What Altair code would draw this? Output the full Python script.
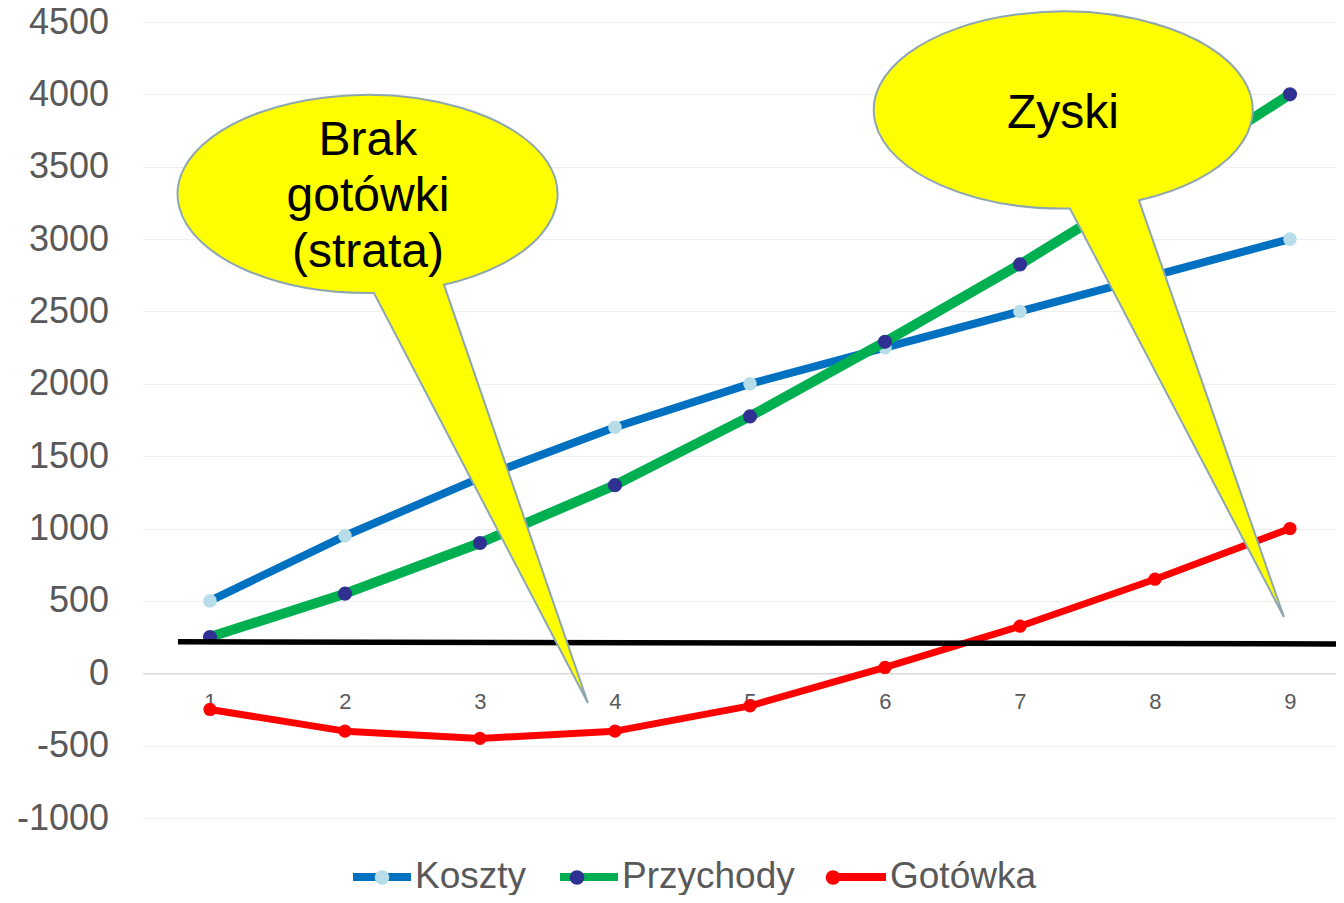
import altair as alt
import pandas as pd

# ---- data ----
periods = [1, 2, 3, 4, 5, 6, 7, 8, 9]
koszty = [500, 950, 1350, 1700, 2000, 2250, 2500, 2750, 3000]
przychody = [250, 550, 900, 1300, 1775, 2290, 2825, 3400, 4000]
gotowka = [-250, -400, -450, -400, -225, 40, 325, 650, 1000]
series_names = ["Koszty", "Przychody", "Gotówka"]
line_colors = ["#0070C0", "#00B050", "#FF0000"]
marker_colors = ["#B7DEE8", "#2E3192", "#FF0000"]
y_ticks = [-1000, -500, 0, 500, 1000, 1500, 2000, 2500, 3000, 3500, 4000, 4500]

# hand-drawn black level line (data units)
level_x = [0.763, 9.341]
level_y = [217, 203]

# callouts (data units)
callout_texts = ["Brak\ngotówki\n(strata)", "Zyski"]
callout_x = [2.170, 7.322]
callout_y = [3311.7, 3891.9]
text_x = [2.170, 7.319]
text_y = [3680, 3867]

rows = []
for name, vals in zip(series_names, [koszty, przychody, gotowka]):
    for p, v in zip(periods, vals):
        rows.append({"period": p, "value": v, "series": name})
df = pd.DataFrame(rows)

FONT = "Liberation Sans"
GREY = "#595959"

xenc = alt.X(
    "period:Q",
    scale=alt.Scale(domain=[0.5, 9.341], nice=False, zero=False),
    axis=alt.Axis(values=periods, format="d", grid=False, ticks=False,
                  labelFontSize=22, labelColor=GREY, labelFont=FONT,
                  labelPadding=18, labelFlush=False, labelOverlap=False,
                  domainColor="#D9D9D9", domainWidth=1.5, offset=-144.7,
                  title=None),
)
yenc = alt.Y(
    "value:Q",
    scale=alt.Scale(domain=[-1000, 4500], nice=False, zero=False),
    axis=alt.Axis(values=y_ticks, grid=True, gridColor="#EFEFEF", gridWidth=1,
                  ticks=False, domain=False, labelFontSize=36, labelColor=GREY,
                  labelFont=FONT, labelPadding=34, labelFlush=False,
                  labelOverlap=False, labelExpr="'' + datum.value", title=None),
)

legend_common = dict(title=None, orient="none", legendX=206.5, legendY=822,
                     direction="horizontal", symbolSize=3364, symbolStrokeWidth=8,
                     labelFontSize=37, labelFont=FONT, labelOffset=0, labelLimit=400,
                     columnPadding=17, padding=0, rowPadding=0, symbolOpacity=1)

stroke_legend = alt.Legend(symbolType="stroke", labelColor=GREY, zindex=1,
                           **legend_common)
circle_path = "M -0.25 0 A 0.25 0.25 0 1 0 0.25 0 A 0.25 0.25 0 1 0 -0.25 0 Z"
fill_legend = alt.Legend(symbolType=circle_path, labelColor="transparent",
                         symbolStrokeColor="transparent", zindex=2, **legend_common)

stroke_scale = alt.Scale(domain=series_names, range=line_colors)
fill_scale = alt.Scale(range=marker_colors)

base = alt.Chart(df)
line_widths = [8, 10, 7]
marker_sizes = [185, 200, 175]

layers = []
for name, lw, ms in zip(series_names, line_widths, marker_sizes):
    d = base.transform_filter(alt.datum.series == name)
    layers.append(
        d.mark_line(strokeWidth=lw, strokeJoin="round").encode(
            x=xenc, y=yenc,
            stroke=alt.Stroke("series:N", scale=stroke_scale, legend=stroke_legend),
        )
    )
    layers.append(
        d.transform_calculate(marker="datum.series").mark_point(
            filled=True, opacity=1, size=ms, strokeWidth=0).encode(
            x=xenc, y=yenc,
            fill=alt.Fill("marker:N", scale=fill_scale, sort=series_names,
                          legend=fill_legend),
        )
    )

level_df = pd.DataFrame({"x": [level_x[0]], "x2": [level_x[1]],
                         "y": [level_y[0]], "y2": [level_y[1]]})
level = alt.Chart(level_df).mark_rule(color="black", strokeWidth=5.5).encode(
    x="x:Q", x2="x2:Q", y="y:Q", y2="y2:Q")

callout_paths = [
    "M 76 90.7 A 190 99 0 1 0 6 99 L 220 509 Z",
    "M 75.5 90.3 A 189.5 98.5 0 1 0 6.5 98.44 L 220.5 507 Z",
]
callout_layers = []
for cx, cy, path in zip(callout_x, callout_y, callout_paths):
    cdf = pd.DataFrame({"x": [cx], "y": [cy]})
    callout_layers.append(
        alt.Chart(cdf).mark_point(shape=path, filled=True, fill="#FFFF00",
                                  stroke="#8EA6B0", strokeWidth=2, opacity=1,
                                  size=4).encode(x="x:Q", y="y:Q")
    )

text_sizes = [48, 48]
text_layers = []
for t, tx, ty, fs in zip(callout_texts, text_x, text_y, text_sizes):
    tdf = pd.DataFrame({"x": [tx], "y": [ty], "t": [t]})
    text_layers.append(
        alt.Chart(tdf).mark_text(fontSize=fs, font=FONT, color="black",
                                 lineBreak="\n", lineHeight=56, align="center",
                                 baseline="middle").encode(x="x:Q", y="y:Q", text="t:N")
    )

chart = alt.layer(*layers, level, *callout_layers, *text_layers).properties(
    width=1193.5, height=796,
    autosize=alt.AutoSizeParams(type="none"),
    padding={"left": 134.5, "top": 14, "right": 0, "bottom": 77},
    background="white",
).configure_view(stroke=None)

chart.save("out.html", embed_options={"renderer": "svg", "actions": False})
